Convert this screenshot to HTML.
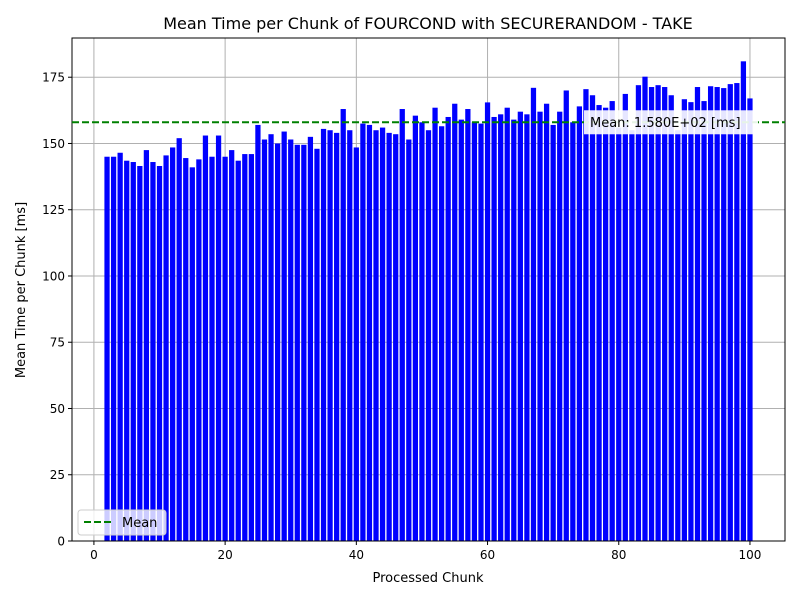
<!DOCTYPE html>
<html><head><meta charset="utf-8"><style>
body{margin:0;background:#fff;}
svg{display:block;font-family:"DejaVu Sans","Liberation Sans",sans-serif;}
</style></head><body>
<svg id="chart" width="800" height="600" xmlns="http://www.w3.org/2000/svg">
<rect width="800" height="600" fill="#fff"/>
<text x="428" y="29" font-size="16" text-anchor="middle">Mean Time per Chunk of FOURCOND with SECURERANDOM - TAKE</text>
<g id="grid"></g><g id="bars"></g><g id="axes"></g><g id="overlay"></g>
<text x="428" y="582" font-size="13" text-anchor="middle">Processed Chunk</text>
<text transform="translate(25,290) rotate(-90)" font-size="13" text-anchor="middle">Mean Time per Chunk [ms]</text>
</svg>
<script>
const chunks = [];
for (let i = 2; i <= 100; i++) chunks.push(i);
const values = [145,145,146.5,143.5,143,141.5,147.5,143,141.5,145.5,148.5,152,144.5,141,144,153,145,153,145,147.5,143.5,146,146,157,151.5,153.5,150,154.5,151.5,149.5,149.5,152.5,148,155.5,155,154,163,155,148.5,157.5,157,155,156,154,153.5,163,151.5,160.5,158,155,163.5,156.5,160,165,159,163,158,157.5,165.5,160,161,163.5,159,162,161,171,162,165,157,162,170,158,164,170.5,168.2,164.5,163.5,166,156,168.7,155,172,175.2,171.3,172,171.3,168.2,155,166.7,165.6,171.3,166,171.6,171.3,170.9,172.4,172.8,181,167];
const meanValue = [158.0];
const xTicks = [0,20,40,60,80,100];
const yTicks = [0,25,50,75,100,125,150,175];
const L=72,R=785,T=38,B=541;
const xMin=-3.34,xMax=105.34,yMax=189.8;
const xs=v=>L+(v-xMin)/(xMax-xMin)*(R-L);
const ys=v=>B-v/yMax*(B-T);
const NS="http://www.w3.org/2000/svg";
function mk(tag,attrs,parent,text){const e=document.createElementNS(NS,tag);for(const k in attrs)e.setAttribute(k,attrs[k]);if(text!==undefined)e.textContent=text;parent.appendChild(e);return e;}
const grid=document.getElementById('grid'),barsG=document.getElementById('bars'),axes=document.getElementById('axes'),ov=document.getElementById('overlay');
xTicks.forEach(t=>{
 const g=mk('line',{x1:xs(t),x2:xs(t),y1:T,y2:B,stroke:'#b0b0b0','stroke-width':1},grid);
 
 
 const tk=mk('line',{x1:xs(t),x2:xs(t),y1:B,y2:B+4,stroke:'#000'},axes);
 
 
 const lb=mk('text',{x:xs(t),y:B+18,'font-size':12,'text-anchor':'middle'},axes,String(t));
 
 
});
yTicks.forEach(t=>{
 const g=mk('line',{x1:L,x2:R,y1:ys(t),y2:ys(t),stroke:'#b0b0b0','stroke-width':1},grid);
 
 
 const tk=mk('line',{x1:L-4,x2:L,y1:ys(t),y2:ys(t),stroke:'#000'},axes);
 
 
 const lb=mk('text',{x:L-7,y:ys(t)+4.5,'font-size':12,'text-anchor':'end'},axes,String(t));
 
 
});
chunks.forEach((c,i)=>{
 const x0=xs(c-0.4),x1=xs(c+0.4);
 const b=mk('rect',{x:x0,y:ys(values[i]),width:x1-x0,height:ys(0)-ys(values[i]),fill:'#0000ff'},barsG);
 
 
});
const fr=mk('rect',{x:L,y:T,width:R-L,height:B-T,fill:'none',stroke:'#000','stroke-width':1},axes);


const ml=mk('line',{x1:L,x2:R,y1:ys(meanValue[0]),y2:ys(meanValue[0]),stroke:'#008000','stroke-width':2,'stroke-dasharray':'7,3'},ov);


const my=ys(meanValue[0]);
const mb=mk('rect',{x:584,y:my-12,width:174,height:24,fill:'#fff',opacity:0.9},ov);


const mt=mk('text',{x:590,y:my+4.5,'font-size':13},ov,'Mean: '+meanValue[0].toExponential(3).toUpperCase().replace('E+','E+0')+' [ms]');


const lg=mk('rect',{x:78,y:510,width:88,height:25,fill:'#fff','fill-opacity':0.8,stroke:'#ccc',rx:3},ov);


const ll=mk('line',{x1:84,x2:112,y1:522,y2:522,stroke:'#008000','stroke-width':2,'stroke-dasharray':'7,3'},ov);


const lt=mk('text',{x:122,y:527,'font-size':13},ov,'Mean');


</script>
</body></html>
